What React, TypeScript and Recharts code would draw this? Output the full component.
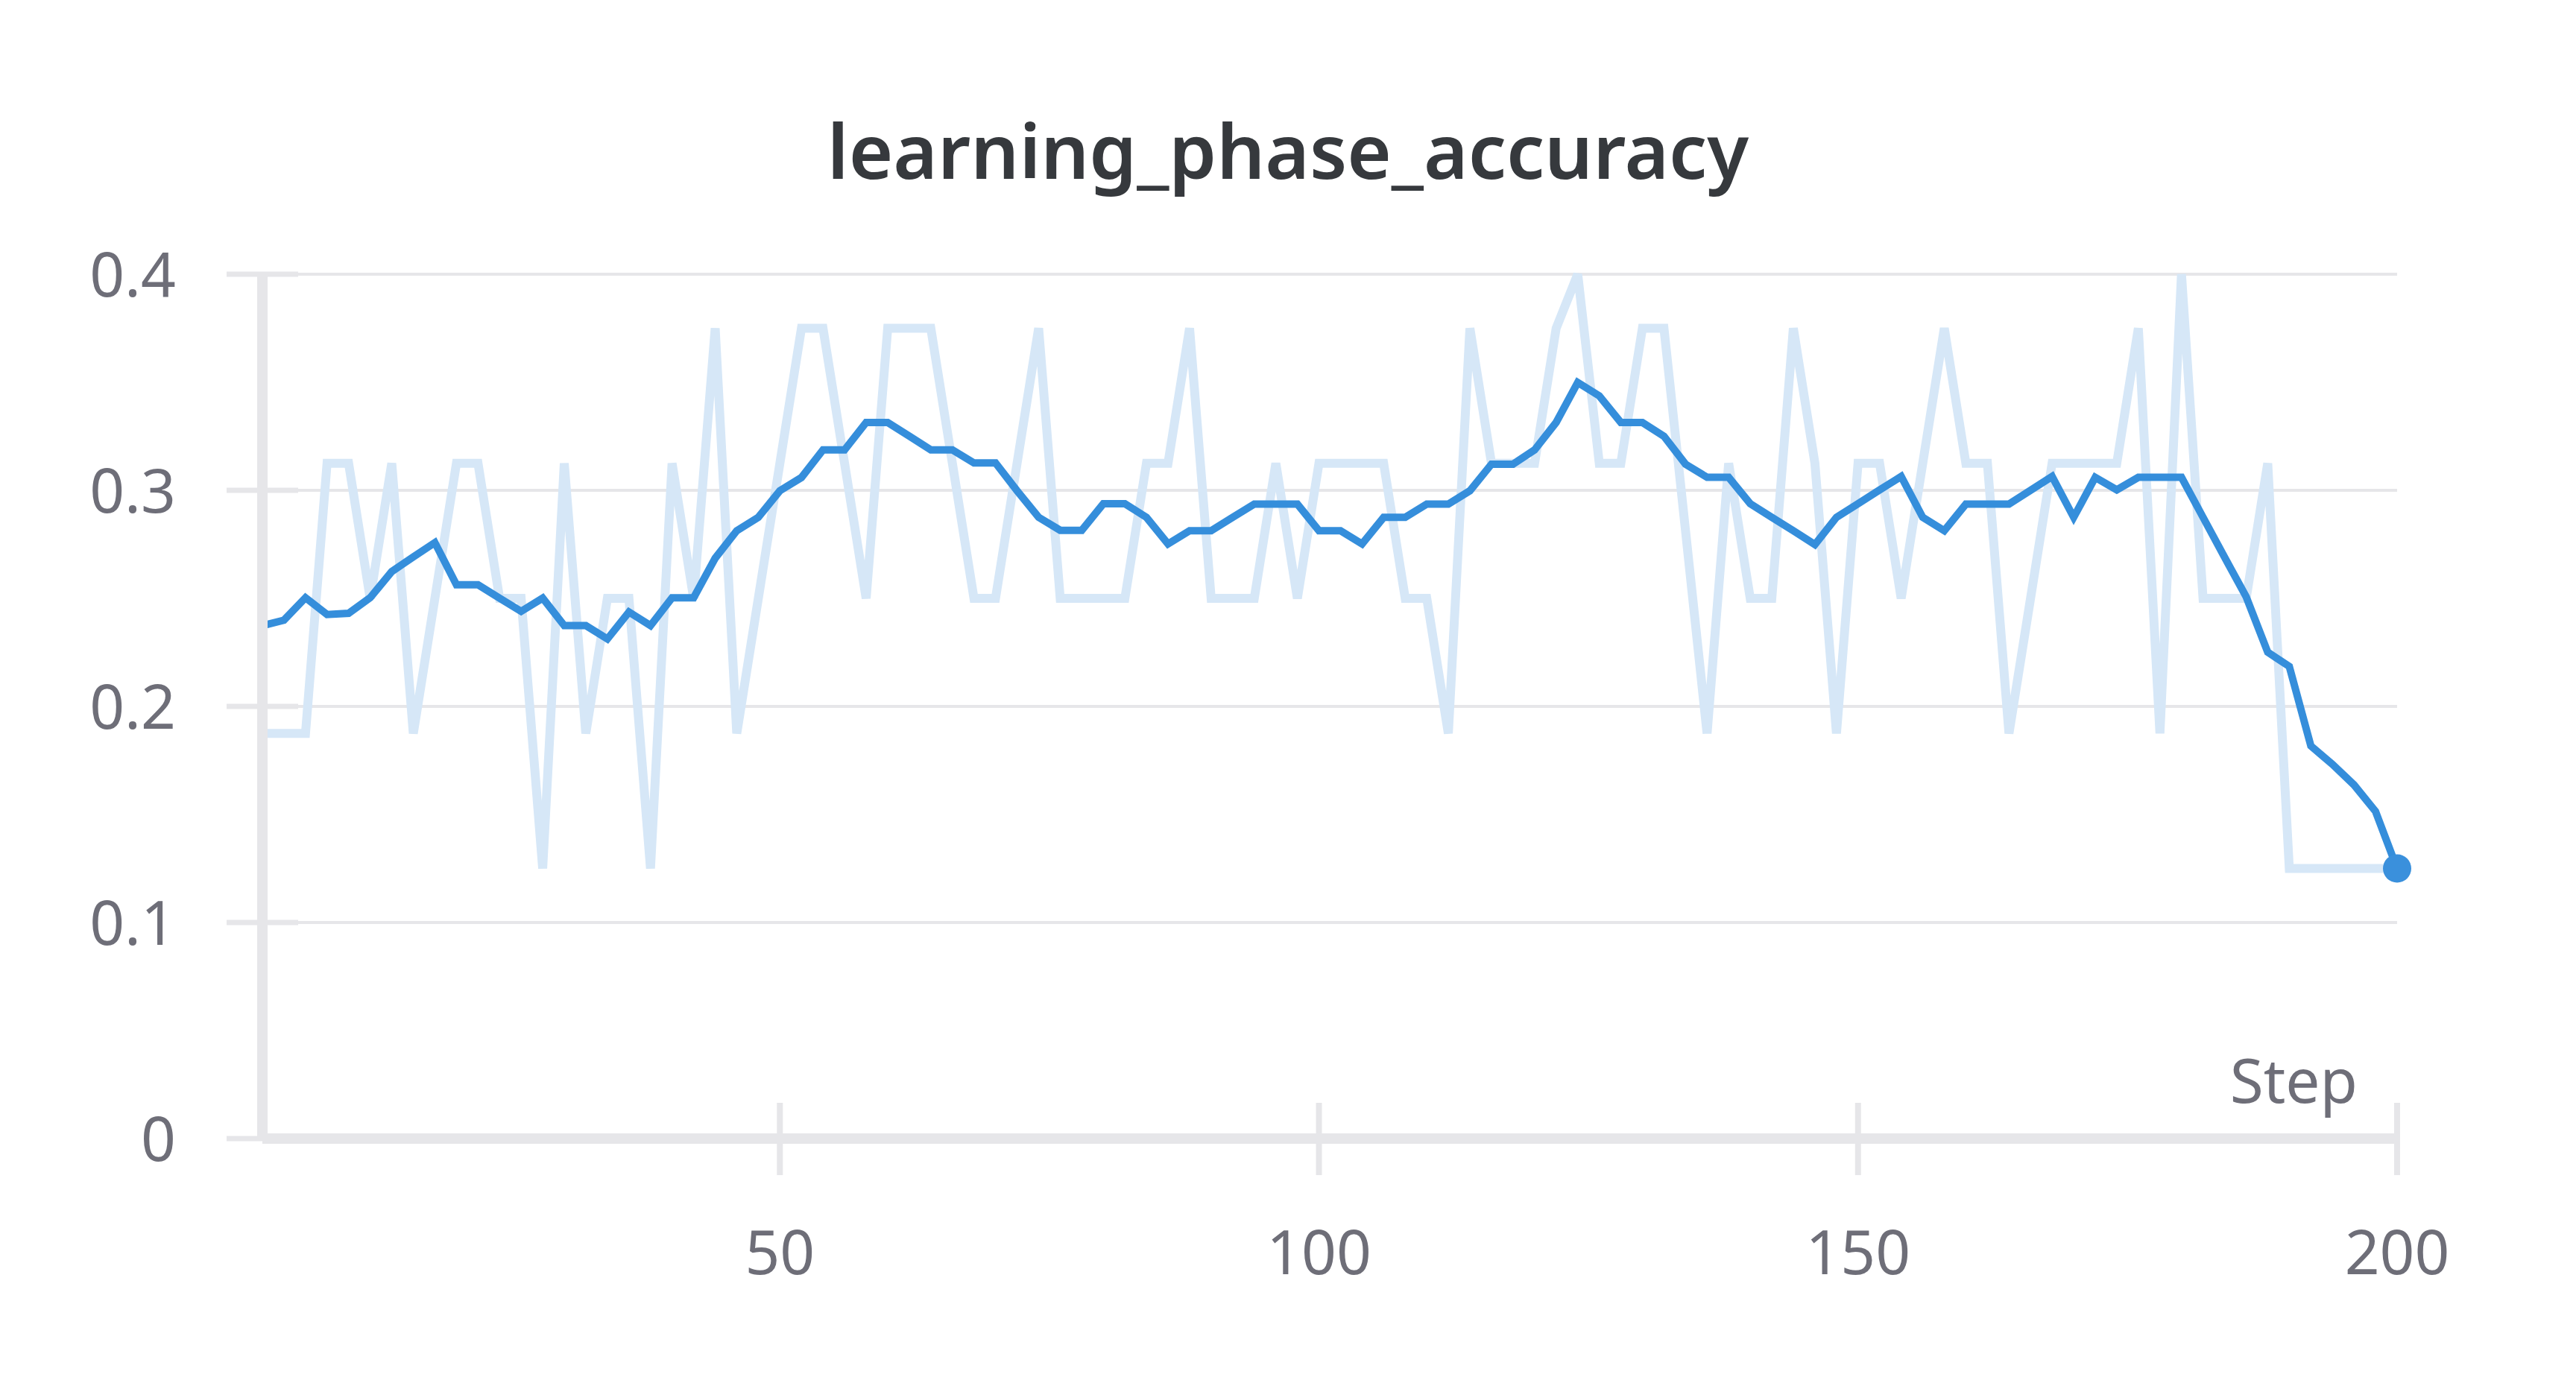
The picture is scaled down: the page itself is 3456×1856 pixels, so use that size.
import { LineChart, Line, XAxis, YAxis, CartesianGrid } from "recharts";

// steps 2, 4, ..., 200
const steps = Array.from({ length: 100 }, (_, i) => (i + 1) * 2);

const rawAccuracy = [
  0.1875, 0.1875, 0.1875, 0.3125, 0.3125, 0.25, 0.3125, 0.1875, 0.25, 0.3125,
  0.3125, 0.25, 0.25, 0.125, 0.3125, 0.1875, 0.25, 0.25, 0.125, 0.3125,
  0.25, 0.375, 0.1875, 0.25, 0.3125, 0.375, 0.375, 0.3125, 0.25, 0.375,
  0.375, 0.375, 0.3125, 0.25, 0.25, 0.3125, 0.375, 0.25, 0.25, 0.25,
  0.25, 0.3125, 0.3125, 0.375, 0.25, 0.25, 0.25, 0.3125, 0.25, 0.3125,
  0.3125, 0.3125, 0.3125, 0.25, 0.25, 0.1875, 0.375, 0.3125, 0.3125, 0.3125,
  0.375, 0.4, 0.3125, 0.3125, 0.375, 0.375, 0.28125, 0.1875, 0.3125, 0.25,
  0.25, 0.375, 0.3125, 0.1875, 0.3125, 0.3125, 0.25, 0.3125, 0.375, 0.3125,
  0.3125, 0.1875, 0.25, 0.3125, 0.3125, 0.3125, 0.3125, 0.375, 0.1875, 0.4,
  0.25, 0.25, 0.25, 0.3125, 0.125, 0.125, 0.125, 0.125, 0.125, 0.125,
];

const smoothAccuracy = [
  0.2374, 0.2399, 0.2503, 0.2425, 0.2431, 0.2503, 0.2624, 0.2692, 0.2758, 0.2563,
  0.2563, 0.2501, 0.244, 0.2501, 0.2374, 0.2374, 0.2312, 0.2437, 0.2374, 0.2503,
  0.2503, 0.2686, 0.2813, 0.2875, 0.2998, 0.3059, 0.3187, 0.3187, 0.3314, 0.3314,
  0.3251, 0.3187, 0.3187, 0.3127, 0.3127, 0.2998, 0.2875, 0.2815, 0.2815, 0.2938,
  0.2938, 0.2875, 0.2752, 0.2813, 0.2813, 0.2875, 0.2936, 0.2936, 0.2936, 0.2813,
  0.2813, 0.2752, 0.2875, 0.2875, 0.2936, 0.2936, 0.2998, 0.3121, 0.3121, 0.3187,
  0.3314, 0.3499, 0.3437, 0.3314, 0.3314, 0.325, 0.3121, 0.306, 0.306, 0.2938,
  0.2875, 0.2813, 0.2749, 0.2875, 0.2938, 0.3002, 0.3064, 0.2875, 0.2813, 0.2936,
  0.2936, 0.2936, 0.3, 0.3064, 0.2875, 0.306, 0.3002, 0.306, 0.306, 0.306,
  0.2875, 0.269, 0.2507, 0.2251, 0.2185, 0.1817, 0.1732, 0.1637, 0.1514, 0.125,
];

const xTicks = [50, 100, 150, 200];
const yTicks = [0, 0.1, 0.2, 0.3, 0.4];

const data = steps.map((step, i) => ({
  step,
  raw: rawAccuracy[i],
  smooth: smoothAccuracy[i],
}));

const FONT = "'Noto Sans', sans-serif";
const AXIS = "#e6e6e9";
const TEXT = "#6e6e78";

function YTick({ x, y, payload }: any) {
  return (
    <g>
      <line x1={x - 48} x2={payload.value === 0 ? x : x + 48} y1={y} y2={y} stroke={AXIS} strokeWidth={7} />
      <text x={x - 116} y={y + 30} textAnchor="end" fill={TEXT} fontSize={82} fontFamily={FONT}>
        {payload.value === 0 ? "0" : payload.value}
      </text>
    </g>
  );
}

function XTick({ x, y, payload }: any) {
  return (
    <g>
      <line x1={x} x2={x} y1={y - 48} y2={y + 49} stroke={AXIS} strokeWidth={8} />
      <text x={x} y={y + 182} textAnchor="middle" fill={TEXT} fontSize={82} fontFamily={FONT}>
        {payload.value}
      </text>
    </g>
  );
}

function EndDot({ cx, cy, index }: any) {
  if (index !== data.length - 1) return null;
  return <circle cx={cx} cy={cy} r={19} fill="#3a90dc" />;
}

export default function App() {
  return (
    <div style={{ position: "absolute", left: 0, top: 0, width: 3456, height: 1856, background: "#fff" }}>
      <LineChart
        width={3456}
        height={1856}
        data={data}
        margin={{ top: 368, right: 240, left: 0, bottom: 178 }}
      >
        <CartesianGrid vertical={false} stroke={AXIS} strokeWidth={4} />
        <XAxis
          dataKey="step"
          type="number"
          domain={[2, 200]}
          ticks={xTicks}
          interval={0}
          height={150}
          tickSize={0}
          tickMargin={0}
          axisLine={{ stroke: AXIS, strokeWidth: 14 }}
          tickLine={false}
          tick={<XTick />}
        />
        <YAxis
          type="number"
          domain={[0, 0.4]}
          ticks={yTicks}
          interval={0}
          width={352}
          tickSize={0}
          tickMargin={0}
          axisLine={{ stroke: AXIS, strokeWidth: 14 }}
          tickLine={false}
          tick={<YTick />}
        />
        <Line
          type="linear"
          dataKey="raw"
          stroke="#d6e7f7"
          strokeWidth={12}
          dot={false}
          activeDot={false}
          isAnimationActive={false}
        />
        <Line
          type="linear"
          dataKey="smooth"
          stroke="#358edb"
          strokeWidth={10}
          dot={<EndDot />}
          activeDot={false}
          isAnimationActive={false}
        />
      </LineChart>
      <svg
        width={3456}
        height={1856}
        style={{ position: "absolute", left: 0, top: 0, pointerEvents: "none" }}
      >
        <text x={1728} y={240} textAnchor="middle" fill="#36393d" fontSize={102} fontWeight={600} fontFamily={FONT}>
          learning_phase_accuracy
        </text>
        <text x={3163} y={1480} textAnchor="end" fill={TEXT} fontSize={82} fontFamily={FONT}>
          Step
        </text>
      </svg>
    </div>
  );
}
